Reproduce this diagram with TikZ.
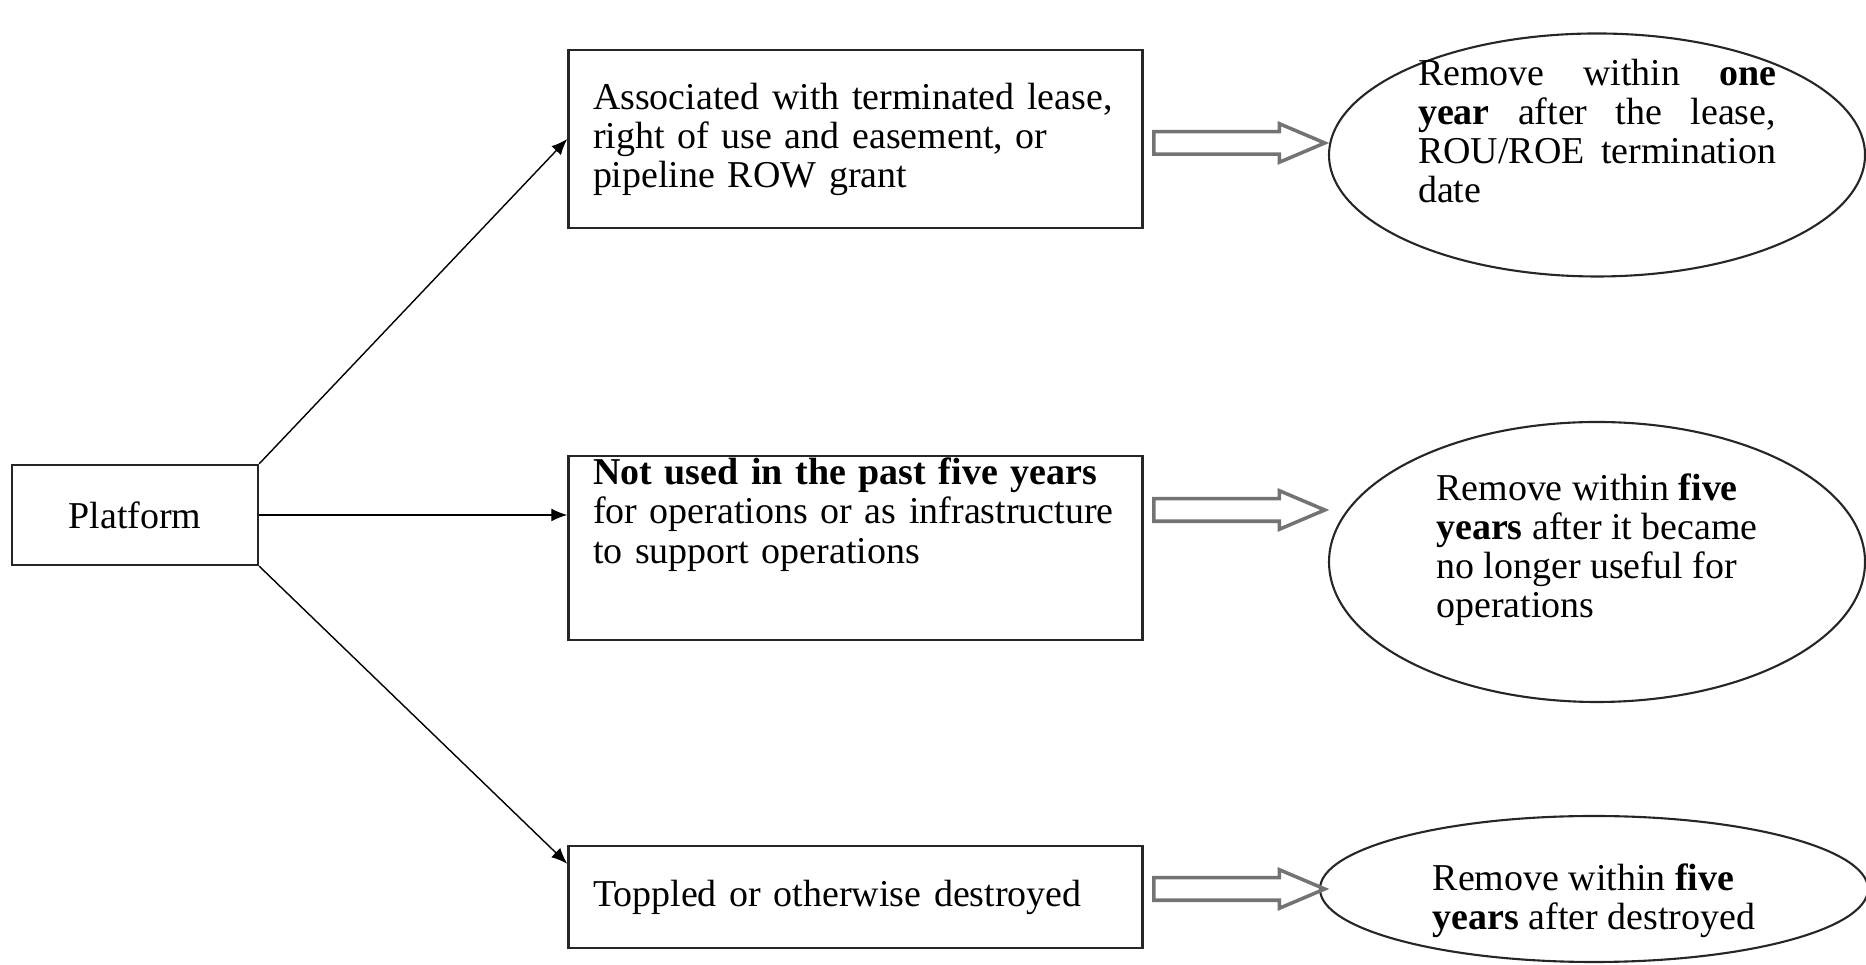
\documentclass[tikz,border=0pt]{standalone}
\usepackage{fontspec}
\setmainfont{Liberation Serif}
\usetikzlibrary{shapes.geometric,shapes.arrows,arrows.meta}

\begin{document}
\begin{tikzpicture}[every node/.style={font=\fontsize{10.8}{11.1}\selectfont},
	box/.style={draw=black!85,line width=0.7pt,rectangle,align=left,text width=5.25cm,inner xsep=0.245cm},
	ellip/.style={draw=black!85,line width=0.6pt,ellipse,inner sep=0pt,minimum width=5.36cm},
	hollow/.style={single arrow,draw=black!55,line width=1pt,inner sep=0.095cm,minimum height=1.71cm,anchor=tail,
		single arrow head extend=0.08cm,single arrow tip angle=46,single arrow head indent=0pt}]
	\useasboundingbox (0,0) rectangle (18.66,9.65);
	\node[draw=black!85,line width=0.7pt,minimum width=2.46cm,minimum height=1.0cm] (platform) at (1.35,4.5) {Platform};
	\node[box,minimum height=1.78cm] (lease) at (8.555,8.26) {Associated with terminated lease,\\ right of use and easement, or\\ pipeline ROW grant};
	\node[box,minimum height=1.84cm,inner ysep=0.06cm,text height=0.23cm,text depth=1.49cm] (unused) at (8.555,4.17) {\textbf{Not used in the past five years}\\ for operations or as infrastructure\\ to support operations};
	\node[box,minimum height=1.02cm] (toppled) at (8.555,0.68) {Toppled or otherwise destroyed};
	\node[ellip,minimum height=2.43cm,text width=3.58cm,align=justify,text depth=1.66cm,inner ysep=-0.3cm] (oneyear) at (15.97,8.10) {Remove within \textbf{one}\linebreak \textbf{year} after the lease,\linebreak ROU/ROE termination\linebreak date};
	\node[ellip,minimum height=2.8cm,align=left,text depth=0.33cm] (fiveuse) at (15.97,4.03) {Remove within \textbf{five}\\ \textbf{years} after it became\\ no longer useful for\\ operations};
	\node[ellip,minimum width=5.48cm,minimum height=1.46cm,align=left,text height=0.89cm] (fivedest) at (15.94,0.76) {Remove within \textbf{five}\\ \textbf{years} after destroyed};
	\node[hollow] (arrlease) at (11.52,8.22) {};
	\node[hollow] (arrunused) at (11.52,4.55) {};
	\node[hollow] (arrtoppled) at (11.52,0.76) {};
	\draw[-{Latex[length=0.16cm,width=0.13cm]}] (platform.north east) -- (lease.west);
	\draw[-{Latex[length=0.16cm,width=0.13cm]}] (platform.east) -- (platform.east -| unused.west);
	\draw[-{Latex[length=0.16cm,width=0.13cm]}] (platform.south east) -- ([yshift=-0.19cm]toppled.north west);
\end{tikzpicture}
\end{document}
